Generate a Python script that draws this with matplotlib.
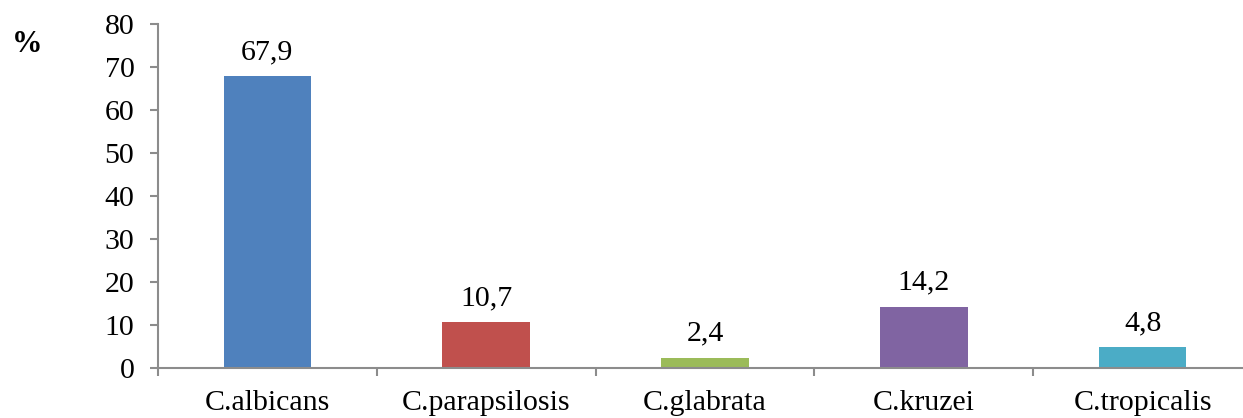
import numpy as np
import matplotlib.pyplot as plt

# données
especes = ['C.albicans', 'C.parapsilosis', 'C.glabrata', 'C.kruzei', 'C.tropicalis']
pourcentages = [67.9, 10.7, 2.4, 14.2, 4.8]
etiquettes = ['67,9', '10,7', '2,4', '14,2', '4,8']
couleurs = ['#4F81BD', '#C0504D', '#9BBB59', '#8064A2', '#4BACC6']

plt.rcParams['font.family'] = ['Liberation Serif', 'DejaVu Serif']
gris = '#8c8c8c'
taille = 21.5

fig = plt.figure(figsize=(12.43, 4.18), dpi=100)
ax = fig.add_axes([158 / 1243, 50 / 418, 1094 / 1243, 344 / 418])

x = np.arange(len(especes))
barres = ax.bar(x, pourcentages, width=0.40, color=couleurs)

for xi, v, txt in zip(x, pourcentages, etiquettes):
    ax.annotate(txt, (xi, v), xytext=(0, 8), textcoords='offset points',
                ha='center', va='bottom', fontsize=taille)

ax.set_xlim(-0.5, len(especes) - 0.5)
ax.set_ylim(0, 80)
ax.set_yticks(range(0, 81, 10))
ax.set_xticks(x)
ax.set_xticklabels(especes)
ax.set_xticks(np.arange(-0.5, len(especes)), minor=True)

for s in ['top', 'right']:
    ax.spines[s].set_visible(False)
for s in ['left', 'bottom']:
    ax.spines[s].set_color(gris)
    ax.spines[s].set_linewidth(1.5)

ax.tick_params(axis='y', direction='out', length=6, width=1.5, color=gris,
               labelsize=taille, pad=11)
ax.tick_params(axis='x', which='major', length=0, labelsize=taille, pad=16)
ax.tick_params(axis='x', which='minor', direction='out', length=6, width=1.5,
               color=gris)

fig.text(12 / 1243, 1 - 44 / 418, '%', fontsize=22, fontweight='bold',
         ha='left', va='center')

plt.savefig('out.png', dpi=100)
